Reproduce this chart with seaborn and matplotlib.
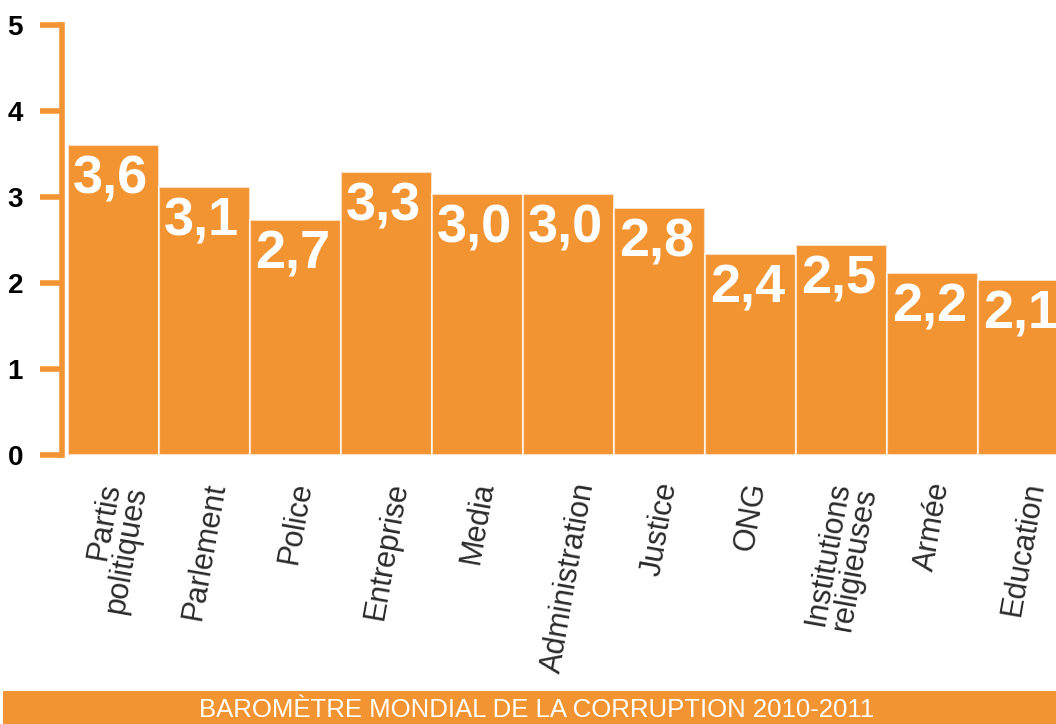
import matplotlib
matplotlib.use("Agg")
import matplotlib.pyplot as plt
import seaborn as sns
import pandas as pd
from matplotlib.patches import Rectangle

# data
categories = ["Partis\npolitiques", "Parlement", "Police", "Entreprise", "Media",
              "Administration", "Justice", "ONG", "Institutions\nreligieuses",
              "Armée", "Education"]
values = [3.6, 3.12, 2.73, 3.29, 3.03, 3.03, 2.87, 2.34, 2.44, 2.12, 2.03]
value_labels = ["3,6", "3,1", "2,7", "3,3", "3,0", "3,0", "2,8", "2,4", "2,5", "2,2", "2,1"]
title = "BAROMÈTRE MONDIAL DE LA CORRUPTION 2010-2011"

orange = "#F39432"

sns.set_theme(style="white")
plt.rcParams["font.family"] = ["Liberation Sans", "DejaVu Sans"]

df = pd.DataFrame({"cat": categories, "val": values})

fig = plt.figure(figsize=(10.56, 7.24), dpi=100)
ax = fig.add_axes([62 / 1056, 1 - 455 / 724, 1 - 62 / 1056, (455 - 25) / 724])

sns.barplot(data=df, x="cat", y="val", color=orange, saturation=1, width=1.0,
            edgecolor=(1, 1, 1, 0.7), linewidth=1.5, ax=ax)

ax.set_xlim(-0.566, 10.357)
ax.set_ylim(0, 5)
ax.set_xlabel("")
ax.set_ylabel("")

for s in ["top", "right", "bottom"]:
    ax.spines[s].set_visible(False)
ax.spines["left"].set_color(orange)
ax.spines["left"].set_linewidth(4)

ax.set_yticks([0, 1, 2, 3, 4, 5])
ax.tick_params(axis="y", direction="out", length=16, width=4, color=orange,
               labelsize=20, pad=12, left=True)
for t in ax.get_yticklabels():
    t.set_fontweight("bold")
    t.set_color("black")

ax.tick_params(axis="x", length=0, pad=18)
ax.set_xticks(range(len(categories)))
ax.set_xticklabels(categories, rotation=80, fontsize=22, color="#2a2a2a",
                   va="top", ha="center", multialignment="right",
                   linespacing=0.88)

for i, (v, lab) in enumerate(zip(values, value_labels)):
    ax.text(i - 0.03, v - 0.11, lab, ha="center", va="top", color="white",
            fontsize=39, fontweight="bold")

# bottom banner
fig.patches.append(Rectangle((3 / 1056, 0), 1 - 3 / 1056, 33 / 724,
                             transform=fig.transFigure, facecolor=orange,
                             edgecolor="none"))
fig.text(537 / 1056, 14 / 724, title, ha="center", va="center", color="white",
         fontsize=18.5)

fig.savefig("out.png", dpi=100)
